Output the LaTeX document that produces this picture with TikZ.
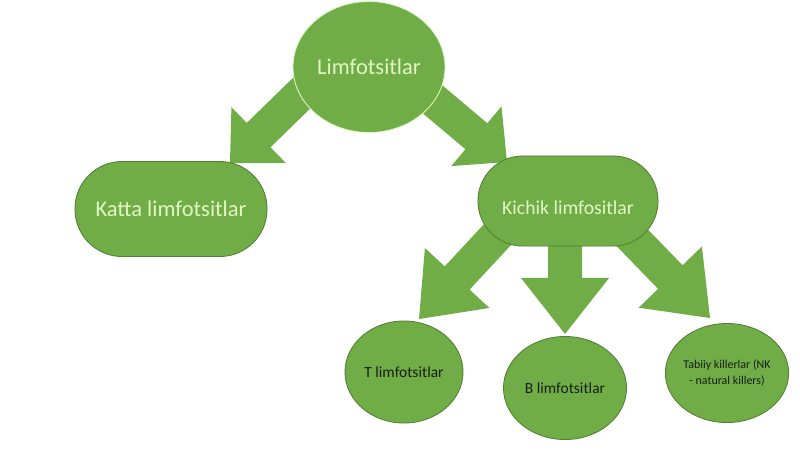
\documentclass[tikz,border=0pt]{standalone}
\usepackage{fontspec}
\setmainfont{Carlito}
\usetikzlibrary{shapes.geometric,calc,backgrounds}

\definecolor{verde}{RGB}{112,173,71}
\definecolor{verdeborde}{RGB}{80,126,50}
\definecolor{textoclaro}{RGB}{226,248,196}
\definecolor{textooscuro}{RGB}{25,30,20}

\tikzset{
  ovalo/.style={ellipse, fill=verde, draw=verdeborde, line width=0.6pt, inner sep=0pt},
  capsula/.style={rectangle, rounded corners=#1, fill=verde, draw=verdeborde, line width=0.6pt, inner sep=0pt},
  flecha/.style={fill=verde}
}

% Flecha de bloque: inicio, punta, medio ancho del cuerpo, medio ancho de la punta, largo de la punta
\newcommand{\flechagrande}[5]{%
  \fill[flecha] let \p1=($(#2)-(#1)$), \n1={atan2(\y1,\x1)} in
    ($(#1)+({\n1+90}:#3)$)
    -- ($(#2)+({\n1+180}:#5)+({\n1+90}:#3)$)
    -- ($(#2)+({\n1+180}:#5)+({\n1+90}:#4)$)
    -- (#2)
    -- ($(#2)+({\n1+180}:#5)+({\n1-90}:#4)$)
    -- ($(#2)+({\n1+180}:#5)+({\n1-90}:#3)$)
    -- ($(#1)+({\n1-90}:#3)$) -- cycle;
}

\begin{document}
\begin{tikzpicture}[x=0.025cm, y=-0.025cm]
    \useasboundingbox (0,0) rectangle (800,449);

    % Nodos superiores
    \node[ovalo, draw=textoclaro, minimum width=3.8cm, minimum height=3.275cm,
          text=textoclaro, font=\fontsize{16}{19}\selectfont] (limf) at (369,67) {Limfotsitlar};
    \node[capsula=1.18cm, minimum width=4.8cm, minimum height=2.375cm,
          text=textoclaro, font=\fontsize{16}{19}\selectfont] (katta) at (171,209) {Katta limfotsitlar};
    \node[capsula=1.12cm, minimum width=4.5cm, minimum height=2.25cm,
          text=textoclaro, font=\fontsize{14}{17}\selectfont] (kichik) at (568,201)
          {\raisebox{-5pt}[\height][\depth]{Kichik limfositlar}};

    % Nodos inferiores
    \node[ovalo, minimum width=2.95cm, minimum height=2.55cm,
          text=textooscuro, font=\fontsize{11}{13}\selectfont] (tlimf) at (404,372) {T limfotsitlar};
    \node[ovalo, minimum width=3.075cm, minimum height=2.575cm,
          text=textooscuro, font=\fontsize{11}{13}\selectfont] (blimf) at (565,388) {B limfotsitlar};
    \node[ovalo, minimum width=3.0cm, minimum height=2.475cm, align=center,
          text=textooscuro, font=\fontsize{8.5}{11}\selectfont] (nk) at (727,373) {Tabiiy killerlar (NK\\- natural killers)};

    % Flechas
    \begin{scope}[on background layer]
        \coordinate (s1) at ($(limf)+(-60,19)$);
        \coordinate (p1) at ($(katta)+(59,-46)$);
        \coordinate (s2) at ($(limf)+(56,26)$);
        \coordinate (p2) at ($(kichik)+(-61,-39)$);
        \coordinate (s3) at ($(kichik)+(-56,18)$);
        \coordinate (p3) at ($(tlimf)+(15,-53)$);
        \coordinate (s4) at ($(kichik)+(-3,19)$);
        \coordinate (p4) at ($(blimf)+(0,-54)$);
        \coordinate (s5) at ($(kichik)+(46,18)$);
        \coordinate (p5) at ($(nk)+(-17,-55)$);
        \flechagrande{s1}{p1}{0.425cm}{0.975cm}{1cm}
        \flechagrande{s2}{p2}{0.425cm}{0.975cm}{1cm}
        \flechagrande{s3}{p3}{0.425cm}{1.1cm}{1.4cm}
        \flechagrande{s4}{p4}{0.425cm}{1.1cm}{1.4cm}
        \flechagrande{s5}{p5}{0.425cm}{1.1cm}{1.425cm}
    \end{scope}
\end{tikzpicture}
\end{document}
